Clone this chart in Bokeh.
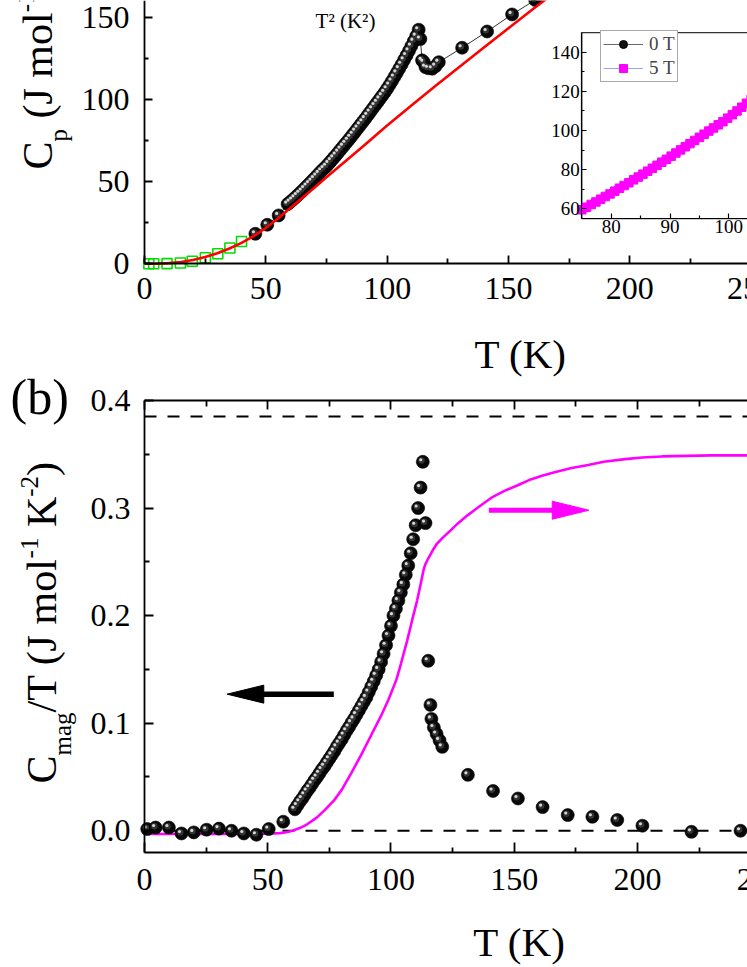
import math
from bokeh.plotting import figure
from bokeh.models import (Range1d, LinearAxis, FixedTicker, PrintfTickFormatter,
                          Label, Legend, LegendItem, ColumnDataSource)
from bokeh.layouts import column
from bokeh.transform import dodge
from bokeh.embed import file_html
from bokeh.resources import INLINE

FONT = "Liberation Serif"

# ---------------- panel (a) data ----------------
T_a0 = [45.7, 50.6, 55.3, 59.0,
        60, 61, 62, 63, 64, 65, 66, 67, 68, 69, 70, 71, 72, 73, 74, 75, 76, 77, 78, 79,
        80, 81, 82, 83, 84, 85, 86, 87, 88, 89, 90, 91, 92, 93, 94, 95, 96, 97, 98, 99,
        100, 101, 102, 103, 104, 105, 106, 107, 108, 109, 110, 111, 112, 113,
        113.7, 114.4, 115.1, 115.8, 117.0, 118.6, 120.0, 121.3,
        130.9, 141.2, 151.5, 161.0, 171.5]
Cp_a0 = [18.3, 23.8, 29.5, 36.4,
         37.6, 38.9, 40.2, 41.6, 43.0, 44.4, 45.9, 47.4, 48.9, 50.4, 52.0, 53.5, 55.1, 56.7, 58.1, 59.5,
         61.2, 62.9, 64.6, 66.3, 68.1, 69.9, 71.7, 73.5, 75.3, 77.1, 79.0, 80.9, 82.8, 84.7, 86.6, 88.5,
         90.5, 92.5, 94.5, 96.5, 98.5, 100.5, 102.5, 104.5, 106.7, 109.0, 111.4, 113.9, 116.4, 119.0,
         121.6, 124.3, 127.0, 129.8, 132.7, 135.7, 138.8, 142.7,
         137.0, 124.0, 122.9, 119.9, 119.2, 118.9, 120.5, 122.9,
         131.7, 141.6, 152.0, 160.8, 170.5]

T_low = [1.8, 3.8, 9.3, 14.8, 19.7, 25.1, 30.2, 35.2, 40.0]
Cp_low = [0.0, 0.0, 0.1, 0.5, 1.6, 3.7, 6.1, 9.6, 13.6]

T_fit = [0, 5, 10, 15, 20, 25, 30, 35, 40, 45, 50, 55, 60, 65, 70, 75, 80, 85, 90, 95,
         100, 110, 120, 130, 140, 150, 160, 170, 180]
Cp_fit = [0.0, 0.1, 0.4, 1.1, 2.3, 4.1, 6.4, 9.3, 12.8, 16.9, 21.8, 27.6, 33.8, 40.1, 46.4,
          52.7, 59.0, 65.3, 71.5, 77.9, 84.3, 96.5, 108.5, 120.3, 132.0, 143.6, 155.1, 166.5, 177.8]

# inset
T_in0 = [75, 76, 77, 78, 79, 80, 81, 82, 83, 84, 85, 86, 87, 88, 89, 90, 91, 92, 93, 94,
         95, 96, 97, 98, 99, 100, 101, 102, 103, 104]
Cp_in0 = [59.5, 61.2, 62.9, 64.6, 66.3, 68.1, 69.9, 71.7, 73.5, 75.3, 77.1, 79.0, 80.9, 82.8,
          84.7, 86.6, 88.5, 90.5, 92.5, 94.5, 96.5, 98.5, 100.5, 102.5, 104.5, 106.7, 109.0,
          111.4, 113.9, 116.4]
T_in5 = [75.0, 75.8, 76.6, 77.4, 78.2, 79.0, 79.8, 80.6, 81.4, 82.2, 83.0, 83.8, 84.6, 85.4,
         86.2, 87.0, 87.8, 88.6, 89.4, 90.2, 91.0, 91.8, 92.6, 93.4, 94.2, 95.0, 95.8, 96.6,
         97.4, 98.2, 99.0, 99.8, 100.6, 101.4, 102.2, 103.0, 103.8, 104.6]
Cp_in5 = [59.5, 60.8, 62.2, 63.5, 64.9, 66.3, 67.6, 69.0, 70.5, 71.9, 73.3, 74.8, 76.2, 77.7,
          79.2, 80.7, 82.2, 83.8, 85.3, 86.9, 88.5, 90.1, 91.7, 93.3, 94.9, 96.5, 98.1, 99.7,
          101.3, 102.9, 104.5, 106.3, 108.1, 110.0, 111.9, 113.9, 115.9, 117.9]

# ---------------- panel (b) data ----------------
T_b = [1.1, 4.5, 9.9, 15.0, 20.0, 25.2, 30.2, 35.3, 40.3, 45.4, 50.4, 56.3,
       61, 62, 63, 64, 65, 66, 67, 68, 69, 70, 71, 72, 73, 74, 75, 76, 77, 78, 79, 80,
       81, 82, 83, 84, 85, 86, 87, 88, 89, 90, 91, 92, 93, 94, 95, 96, 97, 98, 99, 100,
       101, 102, 103, 104, 105, 106, 107, 108, 109, 110, 111, 112,
       112.9, 114.0, 115.1, 116.0, 116.4, 117.4, 118.5, 119.7, 120.8,
       131.2, 141.4, 151.5, 161.5, 171.7, 181.7, 191.8, 202.0, 221.9, 241.8]
CmagT_b = [0.0016, 0.003, 0.003, -0.0025, -0.0015, 0.001, 0.002, 0.0, -0.0025, -0.0037, 0.0016, 0.0084,
           0.0200, 0.0235, 0.0270, 0.0300, 0.0335, 0.0370, 0.0400, 0.0435, 0.0470, 0.0500,
           0.0535, 0.0570, 0.0600, 0.0635, 0.0670, 0.0705, 0.0740, 0.0780, 0.0815, 0.0850,
           0.0890, 0.0930, 0.0965, 0.1005, 0.1040, 0.1080, 0.1120, 0.1160, 0.1200, 0.1240,
           0.1290, 0.1340, 0.1390, 0.1445, 0.1500, 0.1570, 0.1645, 0.1725, 0.1815, 0.1905,
           0.2000, 0.2065, 0.2140, 0.2215, 0.2290, 0.2380, 0.2465, 0.2580, 0.2710, 0.2840,
           0.3000, 0.3190,
           0.343, 0.286, 0.158, 0.117, 0.104, 0.096, 0.090, 0.084, 0.078,
           0.052, 0.037, 0.030, 0.022, 0.0146, 0.013, 0.010, 0.0047, -0.001, 0.0]

# magnetic entropy curve (drawn on the left-axis scale)
T_S = [1.8, 10, 20, 30, 40, 50, 55, 58, 60, 63, 66, 70, 73, 76.8, 80, 84, 88, 92, 96, 99,
       102.2, 104, 106.6, 108.6, 110.6, 112, 113.3, 114, 115.3, 117, 118.7, 121, 124.1, 127,
       130.9, 135, 141, 146, 151.2, 156, 161.3, 166, 172.8, 180, 186.3, 195, 201.9, 210, 220,
       230, 244.5, 250]
S_mag = [-0.003, -0.003, -0.003, -0.003, -0.003, -0.0028, -0.0022, -0.0012, 0.0, 0.0025,
         0.006, 0.0125, 0.019, 0.028, 0.038, 0.054, 0.071, 0.089, 0.107, 0.122,
         0.1405, 0.155, 0.177, 0.196, 0.214, 0.229, 0.2434, 0.248, 0.254, 0.261,
         0.267, 0.2725, 0.279, 0.2855, 0.293, 0.300, 0.310, 0.316, 0.321, 0.326,
         0.330, 0.333, 0.337, 0.340, 0.343, 0.3455, 0.347, 0.348, 0.3485, 0.349, 0.349, 0.349]

UPPER_LEVEL = 0.385   # upper dashed reference
ZERO_LEVEL = 0.0

XT_MAJOR = [0, 50, 100, 150, 200, 250]
XT_MINOR = [25, 75, 125, 175, 225]
X_EDGE_TICK = 250     # tick label that is cut by the right edge
YA_MAJOR = [0, 50, 100, 150]
YA_MINOR = [25, 75, 125]
YB_MAJOR = [0.0, 0.1, 0.2, 0.3, 0.4]
YB_MINOR = [0.05, 0.15, 0.25, 0.35]
INX_MAJOR = [80, 90, 100, 110]
INX_MINOR = [85, 95, 105]
INY_MAJOR = [60, 80, 100, 120, 140]
INY_MINOR = [70, 90, 110, 130]

# ---------------- helpers ----------------
ADV = {' ': 0.25, '(': 0.333, ')': 0.333, '-': 0.333, '/': 0.278, '1': 0.5, '2': 0.5,
       'C': 0.667, 'J': 0.389, 'K': 0.722, 'T': 0.611, 'a': 0.444, 'g': 0.5, 'm': 0.778,
       'o': 0.5, 'l': 0.278, 'p': 0.5}
BL = 0.32   # empirical shift between requested and rendered alphabetic baseline


def style_axis(ax, size_px, standoff, maj, mnr, lw=1.8):
    ax.axis_line_color = "black"
    ax.axis_line_width = lw
    ax.major_tick_line_color = "black"
    ax.major_tick_line_width = lw
    ax.minor_tick_line_color = "black"
    ax.minor_tick_line_width = lw
    ax.major_tick_in = int(maj)
    ax.major_tick_out = 0
    ax.minor_tick_in = int(mnr)
    ax.minor_tick_out = 0
    ax.major_label_text_font = FONT
    ax.major_label_text_font_size = f"{size_px}px"
    ax.major_label_text_color = "black"
    ax.major_label_standoff = int(standoff)


def hlabel(p, x, y, dy_px, text, fs, align="left", dx_px=0):
    p.add_layout(Label(x=x, y=y, x_offset=dx_px, y_offset=dy_px + BL * fs, text=text,
                       text_font=FONT, text_font_size=f"{fs}px", text_color="black",
                       text_align=align, text_baseline="alphabetic"))


def spheres(p, xs, ys, size, ux, uy):
    src = ColumnDataSource(dict(x=xs, y=ys))
    r = p.scatter('x', 'y', source=src, size=size, fill_color="#080808",
                  line_color="black", line_width=0.6)
    p.scatter(dodge('x', -1.3 * ux), dodge('y', 1.3 * uy), source=src, size=size * 0.5,
              fill_color="#343434", line_color=None)
    p.scatter(dodge('x', -2.0 * ux), dodge('y', 2.0 * uy), source=src, size=size * 0.24,
              fill_color="#d8d8d8", line_color=None)
    return r


def vlabel(p, pieces, xa, ya, anchor_px, anchor_py, base_x, start_y,
           big=42, small=25, sub=15, sup=-18):
    y = start_y
    for txt, kind in pieces:
        fs = big if kind == "n" else small
        dx = 0 if kind == "n" else (sub if kind == "sub" else sup)
        lead = len(txt) - len(txt.lstrip(" "))
        y -= lead * ADV[' '] * fs
        core = txt.lstrip(" ")
        p.add_layout(Label(x=xa, y=ya, x_offset=base_x + dx - BL * fs - anchor_px,
                           y_offset=anchor_py - y, text=core, angle=math.pi / 2,
                           text_font=FONT, text_font_size=f"{fs}px", text_color="black",
                           text_align="left", text_baseline="alphabetic"))
        y -= sum(ADV[c] for c in core) * fs


def arrow(p, tail, tip, yv, color, shaft_w, head_len, head_half, ux, uy):
    d = 1 if tip > tail else -1
    base = tip - d * head_len * ux
    p.segment(x0=[tail], y0=[yv], x1=[base + d * 2 * ux], y1=[yv], line_color=color,
              line_width=shaft_w)
    p.patch(x=[tip, base, base], y=[yv, yv + head_half * uy, yv - head_half * uy],
            fill_color=color, line_color=color, line_width=1)


def base_fig(w, h, xr, yr):
    p = figure(width=w, height=h, x_range=Range1d(*xr), y_range=Range1d(*yr),
               output_backend="svg", toolbar_location=None, x_axis_location=None,
               y_axis_location=None, min_border=0, min_border_left=0, min_border_right=0,
               min_border_top=0, min_border_bottom=0)
    p.outline_line_color = None
    p.xgrid.visible = False
    p.ygrid.visible = False
    p.background_fill_color = "white"
    p.border_fill_color = "white"
    return p


W = 747

# ---------------- panel (a) ----------------
A_H = 378
XA = (-59.34, 248.52)
YA = (-69.91, 160.49)
pa = base_fig(W, A_H, XA, YA)
ux_a = (XA[1] - XA[0]) / W
uy_a = (YA[1] - YA[0]) / A_H

xa = LinearAxis(fixed_location=0, bounds=(0, 262),
                ticker=FixedTicker(ticks=XT_MAJOR, minor_ticks=XT_MINOR))
style_axis(xa, 32, 14, 8, 5)
pa.add_layout(xa, "below")
ya = LinearAxis(fixed_location=0, bounds=(0, 175),
                ticker=FixedTicker(ticks=YA_MAJOR, minor_ticks=YA_MINOR))
style_axis(ya, 32, 15, 8, 4)
pa.add_layout(ya, "left")

pa.line(T_a0, Cp_a0, line_color="black", line_width=0.8)
spheres(pa, T_a0, Cp_a0, 13, ux_a, uy_a)
pa.scatter(T_low, Cp_low, marker="square", size=10, fill_color=None,
           line_color="#00dd00", line_width=1.6)
pa.line(T_fit, Cp_fit, line_color="#ff0000", line_width=2.6)

hlabel(pa, 70.5, 144, 0, "T² (K²)", 21)

# inset
pa.extra_x_ranges = {"ix": Range1d(-23.86, 103.18)}
pa.extra_y_ranges = {"iy": Range1d(-26.69, 166.41)}
pa.quad(left=[75], right=[130], bottom=[55], top=[150], x_range_name="ix", y_range_name="iy",
        fill_color="white", line_color="#333333", line_width=1.2)
l0 = pa.line(T_in0, Cp_in0, x_range_name="ix", y_range_name="iy", line_color="#444444",
             line_width=0.8)
s0 = pa.scatter(T_in0, Cp_in0, x_range_name="ix", y_range_name="iy", size=7,
                fill_color="#111111", line_color="black")
l5 = pa.line(T_in5, Cp_in5, x_range_name="ix", y_range_name="iy", line_color="#a0a0ff",
             line_width=1.2)
s5 = pa.scatter(T_in5, Cp_in5, x_range_name="ix", y_range_name="iy", marker="square",
                size=8.5, fill_color="#ff00ff", line_color="#ff00ff")
inx = LinearAxis(x_range_name="ix", y_range_name="iy", fixed_location=55, bounds=(75, 130),
                 ticker=FixedTicker(ticks=INX_MAJOR, minor_ticks=INX_MINOR))
style_axis(inx, 19, 1, 5, 3, lw=1.2)
pa.add_layout(inx, "below")
iny = LinearAxis(x_range_name="ix", y_range_name="iy", fixed_location=75, bounds=(55, 150),
                 ticker=FixedTicker(ticks=INY_MAJOR, minor_ticks=INY_MINOR))
style_axis(iny, 19, 2, 5, 3, lw=1.2)
pa.add_layout(iny, "left")

leg = Legend(items=[LegendItem(label="0 T", renderers=[l0, s0]),
                    LegendItem(label="5 T", renderers=[l5, s5])],
             location=(600, 296), border_line_color="#555555", border_line_width=1,
             background_fill_color="white", background_fill_alpha=1.0,
             label_text_font=FONT, label_text_font_size="19px", glyph_width=40,
             glyph_height=20, label_height=20, label_standoff=6, padding=2, spacing=2,
             margin=0)
pa.add_layout(leg)

hlabel(pa, 155, 0, -103.3, "T (K)", 41, align="center")
hlabel(pa, X_EDGE_TICK, 0, -34.5, str(X_EDGE_TICK), 32, align="center")
vlabel(pa, [("C", "n"), ("p", "sub"), (" (J mol", "n"), ("-1", "sup"), (" K", "n"),
            ("-1", "sup"), (")", "n")], 0, 0, 144, 263.3, 51, 169)

# ---------------- panel (b) ----------------
B_H = 589
XB = (-58.42, 244.63)
YB = (-0.12711, 0.42044)
pb = base_fig(W, B_H, XB, YB)
ux_b = (XB[1] - XB[0]) / W
uy_b = (YB[1] - YB[0]) / B_H
Y_BOT = -0.0202

xb = LinearAxis(fixed_location=Y_BOT, bounds=(0, 262),
                ticker=FixedTicker(ticks=XT_MAJOR, minor_ticks=XT_MINOR))
style_axis(xb, 32, 17, 10, 5)
pb.add_layout(xb, "below")
yb = LinearAxis(fixed_location=0, bounds=(Y_BOT, 0.4),
                ticker=FixedTicker(ticks=YB_MAJOR, minor_ticks=YB_MINOR),
                formatter=PrintfTickFormatter(format="%.1f"))
style_axis(yb, 32, 14, 9, 5)
pb.add_layout(yb, "left")
tb = LinearAxis(fixed_location=0.4, bounds=(0, 262),
                ticker=FixedTicker(ticks=XT_MAJOR, minor_ticks=XT_MINOR))
style_axis(tb, 2, 0, 9, 6)
tb.major_label_text_alpha = 0
pb.add_layout(tb, "above")

pb.segment(x0=[0, 0], y0=[UPPER_LEVEL, ZERO_LEVEL], x1=[262, 262], y1=[UPPER_LEVEL, ZERO_LEVEL],
           line_color="black", line_width=2, line_dash="12 11")
pb.line(T_S, S_mag, line_color="#ff00ff", line_width=2.6)
spheres(pb, T_b, CmagT_b, 13, ux_b, uy_b)

arrow(pb, 76.8, 33.5, 0.127, "black", 5.5, 36.7, 9, ux_b, uy_b)
arrow(pb, 139.7, 180.3, 0.298, "#ff00ff", 5, 36.7, 9, ux_b, uy_b)

hlabel(pb, 0, 0.4, -13, "(b)", 50, dx_px=-134)
hlabel(pb, 152.1, Y_BOT, -103, "T (K)", 41, align="center")
hlabel(pb, X_EDGE_TICK, Y_BOT, -37.5, str(X_EDGE_TICK), 32, align="center")
vlabel(pb, [("C", "n"), ("mag", "sub"), ("/T (J mol", "n"), ("-1", "sup"), (" K", "n"),
            ("-2", "sup"), (")", "n")], 0, Y_BOT, 144, 852, 55, 783)

layout = column(pa, pb)
open("out.html", "w").write(file_html(layout, INLINE))
